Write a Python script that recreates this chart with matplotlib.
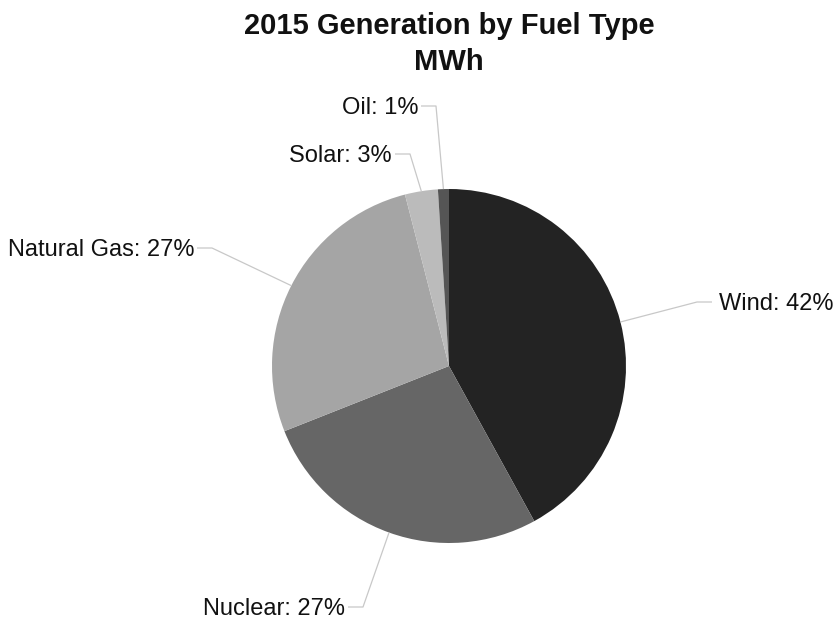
import numpy as np
import matplotlib
matplotlib.use("Agg")
import matplotlib.pyplot as plt

plt.rcParams['font.family'] = ['Liberation Sans', 'DejaVu Sans']

categories = ["Wind", "Nuclear", "Natural Gas", "Solar", "Oil"]
values = [42, 27, 27, 3, 1]
colors = ["#232323", "#666666", "#a5a5a5", "#bbbbbb", "#555555"]

W, H = 834, 620
cx, cy, R = 449, 366, 177  # pixel center & radius of pie

fig = plt.figure(figsize=(W / 100, H / 100), dpi=100)
ax = fig.add_axes([0, 0, 1, 1])

wedges, _ = ax.pie(values, colors=colors, startangle=90, counterclock=False,
                   radius=1, center=(0, 0), frame=True,
                   wedgeprops=dict(linewidth=0))
ax.set_xlim(-cx / R, (W - cx) / R)
ax.set_ylim(-(H - cy) / R, cy / R)
ax.set_aspect('equal')
ax.axis('off')

def px(x, y):
    return ((x - cx) / R, (cy - y) / R)

# elbow point (px), text side
label_layout = {
    "Oil": ((436, 106), 'right'),
    "Solar": ((410, 154), 'right'),
    "Natural Gas": ((212, 248), 'right'),
    "Wind": ((697, 302), 'left'),
    "Nuclear": ((363, 607), 'right'),
}

total = sum(values)
for w, cat, v in zip(wedges, categories, values):
    ang = np.deg2rad((w.theta1 + w.theta2) / 2)
    sx, sy = np.cos(ang), np.sin(ang)
    (ex, ey), side = label_layout[cat]
    exu, eyu = px(ex, ey)
    seg = 15 / R
    if side == 'right':
        hx = exu - seg
        tx = hx - 3 / R
        ha = 'right'
    else:
        hx = exu + seg
        tx = hx + 7 / R
        ha = 'left'
    ax.plot([sx, exu, hx], [sy, eyu, eyu], color="#c8c8c8", lw=0.9,
            solid_capstyle='butt')
    ax.text(tx, eyu - 2 / R, f"{cat}: {round(v / total * 100)}%", ha=ha,
            va='center', fontsize=17, color="#111111")

fig.text(cx / W, 1 - 44 / H, "2015 Generation by Fuel Type\nMWh", ha='center',
         va='center', fontsize=21, fontweight='bold', linespacing=1.36,
         color="#111111")

fig.savefig("out.png", dpi=100, facecolor='white')
